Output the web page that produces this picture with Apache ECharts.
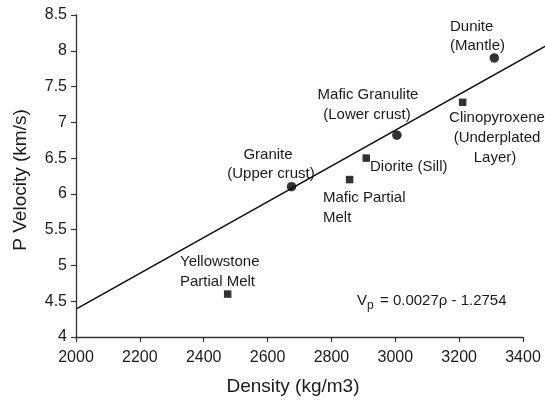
<!DOCTYPE html>
<html>
<head>
<meta charset="utf-8">
<script src="https://cdn.jsdelivr.net/npm/echarts@6/dist/echarts.min.js"></script>
<style>
html,body{margin:0;padding:0;background:#fff;}
#chart{width:545px;height:403px;}
</style>
</head>
<body>
<div id="chart"></div>
<script>
// ---- data ----
const circleNames = ['Granite (Upper crust)', 'Mafic Granulite (Lower crust)', 'Dunite (Mantle)'];
const circleDensity = [2675, 3005, 3310];
const circleVp = [6.10, 6.82, 7.90];

const squareNames = ['Yellowstone Partial Melt', 'Mafic Partial Melt', 'Diorite (Sill)', 'Clinopyroxene (Underplated Layer)'];
const squareDensity = [2475, 2857, 2909, 3211];
const squareVp = [4.60, 6.20, 6.50, 7.28];

const fitDensity = [2000, 3480];
const fitVp = [4.39, 8.09];

const xMin = 2000, xMax = 3400, xStep = 200;
const yMin = 4, yMax = 8.5, yStep = 0.5;

const xTitle = 'Density (kg/m3)';
const yTitle = 'P Velocity (km/s)';
const eqMain = '= 0.0027\u03C1 - 1.2754';

// ---- chart ----
const FONT = '"Liberation Sans", Arial, Helvetica, sans-serif';
const chart = echarts.init(document.getElementById('chart'), null, {renderer: 'canvas'});

function txt(text, x, y, align, size) {
  return {
    type: 'text', silent: true,
    style: {text: text, x: x, y: y, align: align || 'left', verticalAlign: 'middle',
            fontSize: size || 15, fontFamily: FONT, fill: '#1a1a1a'}
  };
}

const zip = (a, b) => a.map((v, i) => [v, b[i]]);

chart.setOption({
  animation: false,
  backgroundColor: '#ffffff',
  grid: {left: 76, right: 22, top: 15, bottom: 66, containLabel: false},
  xAxis: {
    type: 'value', min: xMin, max: xMax, interval: xStep,
    axisLine: {show: true, lineStyle: {color: '#333', width: 1.3}},
    axisTick: {show: true, inside: false, length: 5, lineStyle: {color: '#333', width: 1.2}},
    axisLabel: {color: '#1a1a1a', fontSize: 16, fontFamily: FONT, margin: 13,
                formatter: v => String(v)},
    splitLine: {show: false}
  },
  yAxis: {
    type: 'value', min: yMin, max: yMax, interval: yStep,
    axisLine: {show: true, lineStyle: {color: '#333', width: 1.3}},
    axisTick: {show: true, inside: false, length: 5, lineStyle: {color: '#333', width: 1.2}},
    axisLabel: {color: '#1a1a1a', fontSize: 16, fontFamily: FONT, margin: 9,
                formatter: v => String(v)},
    splitLine: {show: false}
  },
  series: [
    {
      name: 'fit', type: 'custom', clip: false, z: 2,
      data: [[fitDensity[0], fitVp[0], fitDensity[1], fitVp[1]]],
      renderItem: function (params, api) {
        const p1 = api.coord([api.value(0), api.value(1)]);
        const p2 = api.coord([api.value(2), api.value(3)]);
        return {
          type: 'line',
          shape: {x1: p1[0], y1: p1[1], x2: p2[0], y2: p2[1]},
          style: {stroke: '#111', lineWidth: 1.6}
        };
      }
    },
    {
      name: 'circles', type: 'scatter', symbol: 'circle', symbolSize: 9.5,
      itemStyle: {color: '#000'}, data: zip(circleDensity, circleVp), z: 3
    },
    {
      name: 'squares', type: 'scatter', symbol: 'rect', symbolSize: 7.5,
      itemStyle: {color: '#000'}, data: zip(squareDensity, squareVp), z: 3
    }
  ],
  graphic: [
    txt(xTitle, 293, 387, 'center', 19),
    {
      type: 'text', silent: true, rotation: Math.PI / 2, x: 21, y: 180,
      style: {text: yTitle, x: 0, y: 0, align: 'center', verticalAlign: 'middle',
              fontSize: 19, fontFamily: FONT, fill: '#1a1a1a'}
    },
    txt('Dunite', 450, 27),
    txt('(Mantle)', 450, 46),
    txt('Mafic Granulite', 368, 95, 'center'),
    txt('(Lower crust)', 367, 115, 'center'),
    txt('Clinopyroxene', 497, 118, 'center'),
    txt('(Underplated', 497, 138, 'center'),
    txt('Layer)', 495, 158, 'center'),
    txt('Granite', 268, 155, 'center'),
    txt('(Upper crust)', 271, 174, 'center'),
    txt('Diorite (Sill)', 370, 167),
    txt('Mafic Partial', 323, 198),
    txt('Melt', 323, 218),
    txt('Yellowstone', 180, 262),
    txt('Partial Melt', 180, 282),
    txt('V', 357, 301, 'left', 15),
    txt('p', 367, 306, 'left', 12),
    txt(eqMain, 380, 301, 'left', 15)
  ]
});
</script>
</body>
</html>
